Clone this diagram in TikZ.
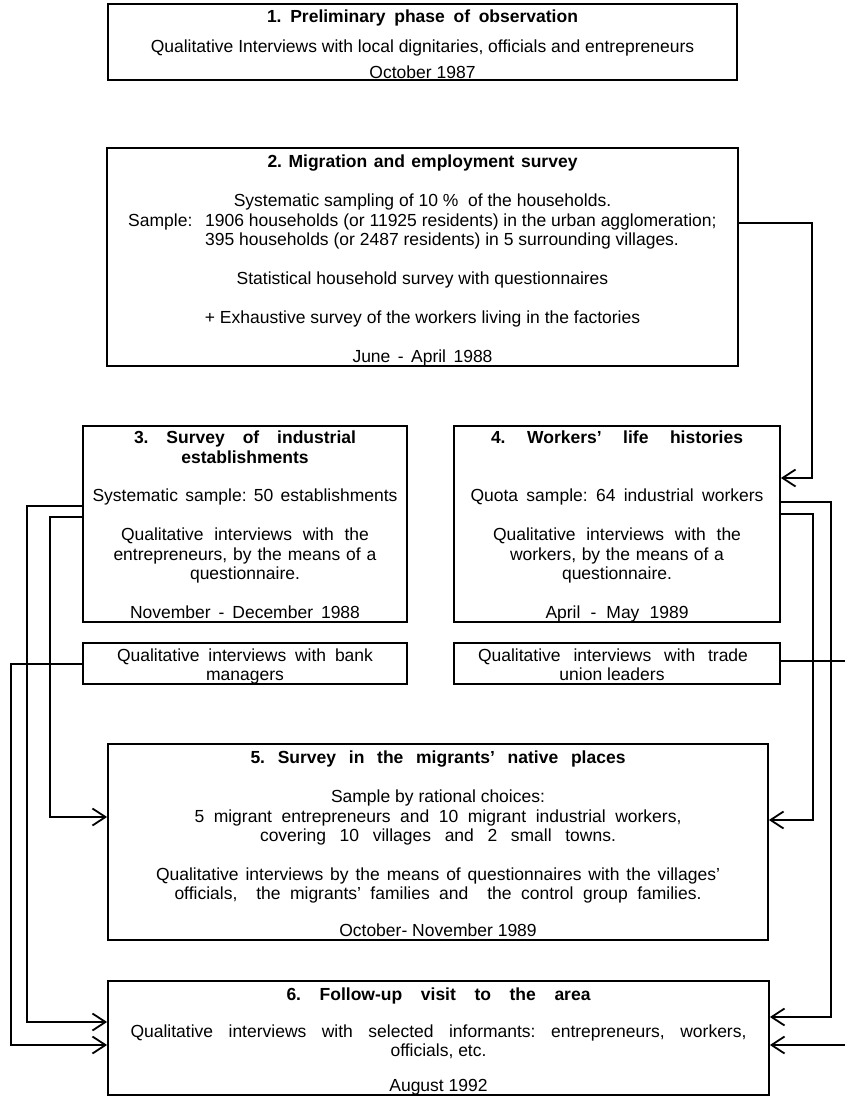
\documentclass[tikz,border=0pt]{standalone}
\usepackage{fontspec}
\setmainfont{Liberation Sans}
\usetikzlibrary{arrows.meta}
\frenchspacing
\newcommand\sline[2]{\makebox[#1pt][s]{#2}}
\tikzset{
  boxst/.style={draw, line width=1.8pt, inner sep=0pt, rectangle},
  txt/.style={anchor=base, inner sep=0pt, font=\fontsize{17.5}{19.5}\selectfont\frenchspacing},
  txtw/.style={anchor=base west, inner sep=0pt, font=\fontsize{17.5}{19.5}\selectfont\frenchspacing},
  ttl/.style={anchor=base, inner sep=0pt, font=\fontsize{17.5}{19.5}\selectfont\bfseries\frenchspacing},
  conn/.style={line width=1.8pt, line join=miter, -{Straight Barb[length=13pt,width=17pt]}}
}
\begin{document}
\begin{tikzpicture}[x=1pt,y=-1pt]
\useasboundingbox (0,0) rectangle (845,1098);
\clip (0,0) rectangle (845,1098);
% boxes
\node[boxst, minimum width=629pt, minimum height=76pt] (b1) at (422.5,42) {};
\node[boxst, minimum width=631pt, minimum height=218pt] (b2) at (422.5,257) {};
\node[boxst, minimum width=324pt, minimum height=196pt] (b3) at (245,524) {};
\node[boxst, minimum width=326pt, minimum height=196pt] (b4) at (617,524) {};
\node[boxst, minimum width=324pt, minimum height=41pt] (bk) at (245,663.5) {};
\node[boxst, minimum width=326pt, minimum height=41pt] (tu) at (617,663.5) {};
\node[boxst, minimum width=660pt, minimum height=196pt] (b5) at (438,842) {};
\node[boxst, minimum width=661pt, minimum height=114pt] (b6) at (438.5,1038) {};
% box 1
\node[ttl] (t1a) at (422.5,22) {\sline{311}{1. Preliminary phase of observation}};
\node[txt] (t1b) at (422.5,52) {Qualitative Interviews with local dignitaries, officials and entrepreneurs};
\node[txt] (t1c) at (422.5,78) {October 1987};
% box 2
\node[ttl] (t2a) at (422.5,167) {\sline{310}{2. Migration and employment survey}};
\node[txt] (t2b) at (422.5,206) {Systematic sampling of 10 \%\ \ of the households.};
\node[txtw] (t2c) at (128,226) {Sample:};
\node[txtw] (t2d) at (205,226) {1906 households (or 11925 residents) in the urban agglomeration;};
\node[txtw] (t2e) at (205,245) {395 households (or 2487 residents) in 5 surrounding villages.};
\node[txt] (t2f) at (422.5,284) {Statistical household survey with questionnaires};
\node[txt] (t2g) at (422.5,323) {+ Exhaustive survey of the workers living in the factories};
\node[txt] (t2h) at (422.5,362) {\sline{140}{June - April 1988}};
% box 3
\node[ttl] (t3a) at (245,443) {\sline{222}{3. Survey of industrial}};
\node[ttl] (t3b) at (245,463) {establishments};
\node[txt] (t3c) at (245,501) {\sline{305}{Systematic sample: 50 establishments}};
\node[txt] (t3d) at (245,540) {\sline{248}{Qualitative interviews with the}};
\node[txt] (t3e) at (245,560) {\sline{263}{entrepreneurs, by the means of a}};
\node[txt] (t3f) at (245,579) {questionnaire.};
\node[txt] (t3g) at (245,618) {\sline{230}{November - December 1988}};
% box 4
\node[ttl] (t4a) at (617,443) {\sline{252}{4. Workers' life histories}};
\node[txt] (t4b) at (617,501) {\sline{293}{Quota sample: 64 industrial workers}};
\node[txt] (t4c) at (617,540) {\sline{248}{Qualitative interviews with the}};
\node[txt] (t4d) at (617,560) {\sline{214}{workers, by the means of a}};
\node[txt] (t4e) at (617,579) {questionnaire.};
\node[txt] (t4f) at (617,618) {\sline{143}{April - May 1989}};
% small boxes
\node[txt] (tka) at (245,661) {\sline{256}{Qualitative interviews with bank}};
\node[txt] (tkb) at (245,680) {managers};
\node[txt] (tua) at (613,661) {\sline{270}{Qualitative interviews with trade}};
\node[txt] (tub) at (612,680) {union leaders};
% box 5
\node[ttl] (t5a) at (438,763) {\sline{375}{5. Survey in the migrants' native places}};
\node[txt] (t5b) at (438,802) {Sample by rational choices:};
\node[txt] (t5c) at (438,822) {\sline{487}{5 migrant entrepreneurs and 10 migrant industrial workers,}};
\node[txt] (t5d) at (438,841) {\sline{356}{covering 10 villages and 2 small towns.}};
\node[txt] (t5e) at (438,880) {\sline{564}{Qualitative interviews by the means of questionnaires with the villages'}};
\node[txt] (t5f) at (438,899) {\sline{527}{officials,\ \ the migrants' families and\ \ the control group families.}};
\node[txt] (t5g) at (438,936) {October- November 1989};
% box 6
\node[ttl] (t6a) at (438.5,1000) {\sline{304}{6. Follow-up visit to the area}};
\node[txt] (t6b) at (438.5,1037) {\sline{616}{Qualitative interviews with selected informants: entrepreneurs, workers,}};
\node[txt] (t6c) at (438.5,1056) {officials, etc.};
\node[txt] (t6d) at (438.5,1091) {August 1992};
% connectors right
\draw[conn] (b2.east |- 0,223) -- (812,223) -- (812,478) -- (b4.east |- 0,478);
\draw[conn] (b4.east |- 0,502) -- (831,502) -- (831,1017) -- (b6.east |- 0,1017);
\draw[conn] (b4.east |- 0,514) -- (813,514) -- (813,820) -- (b5.east |- 0,820);
\draw[conn] (tu.east |- 0,661) -- (860,661) -- (860,1045) -- (b6.east |- 0,1045);
% connectors left
\draw[conn] (b3.west |- 0,506) -- (27,506) -- (27,1022) -- (b6.west |- 0,1022);
\draw[conn] (b3.west |- 0,517) -- (50,517) -- (50,817) -- (b5.west |- 0,817);
\draw[conn] (bk.west |- 0,664) -- (11,664) -- (11,1045) -- (b6.west |- 0,1045);
\end{tikzpicture}
\end{document}
